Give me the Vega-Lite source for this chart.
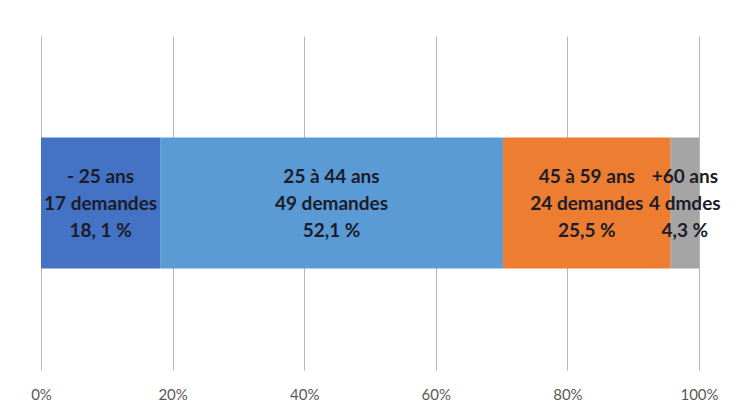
{
  "$schema": "https://vega.github.io/schema/vega-lite/v6.json",
  "width": 658,
  "height": 334,
  "autosize": "none",
  "padding": {"left": 41, "top": 36, "right": 38, "bottom": 44},
  "background": "white",
  "config": {"view": {"stroke": null}},
  "data": {
    "values": [
      {"order": 1, "cat": "- 25 ans", "value": 18.1, "label": "- 25 ans\n17 demandes\n18, 1 %"},
      {"order": 2, "cat": "25 à 44 ans", "value": 52.1, "label": "25 à 44 ans\n49 demandes\n52,1 %"},
      {"order": 3, "cat": "45 à 59 ans", "value": 25.5, "label": "45 à 59 ans\n24 demandes\n25,5 %"},
      {"order": 4, "cat": "+60 ans", "value": 4.3, "label": "+60 ans\n4 dmdes\n4,3 %"}
    ]
  },
  "transform": [
    {"stack": "value", "groupby": [], "sort": [{"field": "order", "order": "ascending"}], "as": ["v0", "v1"]},
    {"calculate": "(datum.v0 + datum.v1) / 2", "as": "mid"}
  ],
  "layer": [
    {
      "mark": {"type": "bar", "size": 131},
      "encoding": {
        "x": {
          "field": "v0",
          "type": "quantitative",
          "scale": {"domain": [0, 100], "nice": false},
          "axis": {
            "title": null,
            "values": [0, 20, 40, 60, 80, 100],
            "labelExpr": "datum.value + '%'",
            "grid": true,
            "gridColor": "#b5b5b5",
            "gridWidth": 1,
            "domain": false,
            "ticks": false,
            "labelFlush": false,
            "labelPadding": 17,
            "labelFontSize": 15,
            "labelFont": "Lato, sans-serif",
            "labelColor": "#595959"
          }
        },
        "x2": {"field": "v1"},
        "color": {
          "field": "cat",
          "type": "nominal",
          "scale": {
            "domain": ["- 25 ans", "25 à 44 ans", "45 à 59 ans", "+60 ans"],
            "range": ["#4472C4", "#5B9BD5", "#ED7D31", "#A5A5A5"]
          },
          "legend": null
        }
      }
    },
    {
      "mark": {
        "type": "text",
        "lineBreak": "\n",
        "fontWeight": "bold",
        "fontSize": 19,
        "lineHeight": 27,
        "dy": -26,
        "font": "Lato, sans-serif",
        "color": "#1c1c2a",
        "baseline": "middle",
        "align": "center"
      },
      "encoding": {
        "x": {"field": "mid", "type": "quantitative"},
        "text": {"field": "label"}
      }
    }
  ]
}
